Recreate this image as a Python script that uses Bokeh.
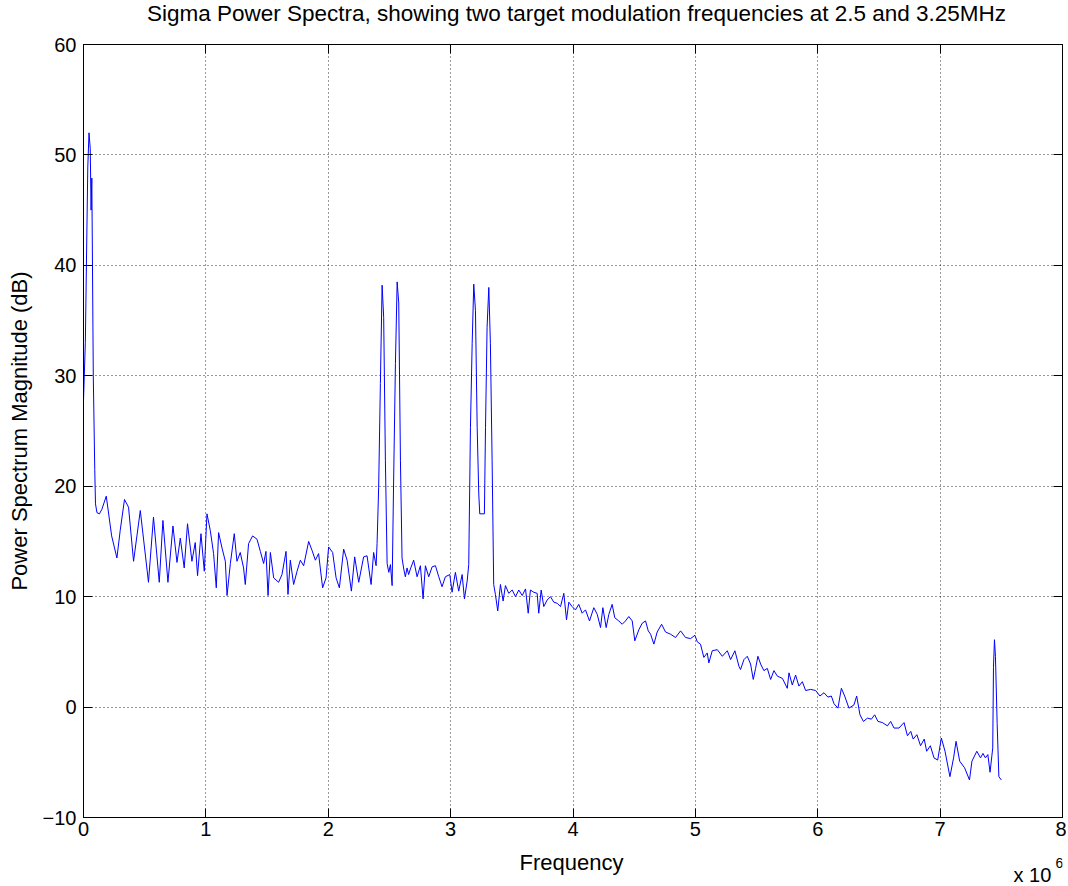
from bokeh.plotting import figure
from bokeh.models import Range1d, LinearAxis, Label, FixedTicker, ColumnDataSource
from bokeh.layouts import column
from bokeh.embed import file_html
from bokeh.resources import INLINE

# ---- data (frequency in MHz, magnitude in dB) ----
freq_low = [0.000, 0.015, 0.035, 0.045, 0.055, 0.062, 0.068, 0.080, 0.092, 0.098, 0.110, 0.130, 0.150, 0.186,
            0.230, 0.273, 0.300, 0.335, 0.368, 0.409, 0.464, 0.531, 0.572, 0.619, 0.649, 0.690, 0.731, 0.764,
            0.791, 0.823, 0.850, 0.886, 0.913, 0.932, 0.960, 0.987]
db_low = [27.8, 33.0, 48.9, 52.0, 50.6, 45.0, 47.9, 30.0, 21.5, 18.4, 17.6, 17.5, 17.9, 19.1,
          15.5, 13.5, 16.0, 18.8, 18.1, 13.2, 17.8, 11.3, 17.2, 11.3, 16.9, 11.3, 16.4, 13.1,
          15.3, 12.6, 16.6, 13.2, 14.9, 11.9, 15.7, 12.3]

freq_band = [1.009, 1.036, 1.063, 1.085, 1.104, 1.132, 1.159, 1.173, 1.200, 1.232, 1.254, 1.281, 1.308, 1.322,
             1.349, 1.382, 1.418, 1.445, 1.472, 1.491, 1.508, 1.527, 1.554, 1.594, 1.622, 1.655, 1.671, 1.690,
             1.717, 1.745, 1.772, 1.799, 1.840, 1.867, 1.895, 1.921, 1.954, 1.982, 2.003, 2.036, 2.064, 2.091,
             2.126, 2.154, 2.189, 2.216, 2.249, 2.289, 2.317, 2.350, 2.371, 2.391]
db_band = [17.5, 16.0, 13.9, 10.8, 15.8, 14.4, 13.2, 10.1, 13.0, 15.7, 13.2, 14.0, 12.6, 11.1,
           14.8, 15.5, 15.2, 14.1, 13.0, 14.1, 10.1, 14.0, 11.7, 11.3, 12.0, 14.1, 10.2, 13.3,
           11.1, 12.3, 13.3, 12.8, 15.0, 14.2, 13.3, 13.9, 10.8, 11.7, 14.5, 14.0, 11.7, 10.8,
           14.3, 13.3, 10.5, 13.6, 11.3, 13.6, 13.7, 11.1, 14.0, 12.8]

freq_pair1 = [2.399, 2.412, 2.426, 2.440, 2.453, 2.467, 2.481, 2.495, 2.508, 2.522, 2.535, 2.549, 2.563,
              2.576, 2.590, 2.603]
db_pair1 = [14.8, 19.9, 29.3, 38.2, 35.3, 22.3, 13.0, 12.2, 12.9, 11.0, 21.1, 31.1, 38.5,
            36.6, 22.3, 13.5]

freq_mid = [2.617, 2.630, 2.644, 2.657, 2.671, 2.698, 2.726, 2.753, 2.775, 2.794, 2.821, 2.849, 2.876,
            2.903, 2.930, 2.957, 2.993, 3.012, 3.039, 3.066, 3.094, 3.113, 3.135, 3.148]
db_mid = [12.5, 11.8, 12.6, 12.0, 12.5, 13.3, 11.8, 12.8, 9.8, 12.8, 11.8, 12.7, 12.8,
          11.8, 10.9, 11.8, 12.0, 10.4, 12.2, 10.5, 12.0, 9.8, 11.4, 12.9]

freq_pair2 = [3.162, 3.176, 3.189, 3.203, 3.217, 3.230, 3.238, 3.276, 3.285, 3.298, 3.312, 3.325, 3.339,
              3.352, 3.366, 3.385]
db_pair2 = [25.3, 32.9, 38.3, 35.9, 25.3, 19.3, 17.5, 17.5, 25.3, 34.4, 38.0, 32.9, 22.3,
            11.1, 10.2, 8.7]

freq_high = [3.407, 3.429, 3.448, 3.475, 3.503, 3.530, 3.557, 3.585, 3.612, 3.634, 3.652, 3.679, 3.707,
             3.720, 3.740, 3.761, 3.789, 3.816, 3.843, 3.871, 3.898, 3.925, 3.947, 3.966, 3.993, 4.020,
             4.047, 4.075, 4.102, 4.135, 4.170, 4.198, 4.225, 4.244, 4.271, 4.293, 4.320, 4.341, 4.374,
             4.402, 4.429, 4.456, 4.484, 4.505, 4.538, 4.566, 4.593, 4.615, 4.634, 4.661, 4.688, 4.724,
             4.756, 4.797, 4.838, 4.879, 4.920, 4.961, 4.996, 5.016, 5.042, 5.069, 5.097, 5.110, 5.138,
             5.179, 5.220, 5.261, 5.288, 5.323, 5.356]
db_high = [11.1, 9.6, 11.0, 10.3, 10.6, 10.0, 10.6, 10.1, 10.7, 8.5, 10.6, 10.4, 10.3,
           8.5, 10.6, 9.1, 9.7, 10.0, 9.5, 9.4, 9.1, 10.3, 7.9, 9.5, 9.1, 8.8,
           9.3, 8.5, 8.8, 7.8, 9.0, 8.4, 7.2, 9.0, 7.2, 8.4, 9.3, 8.1, 7.8,
           7.5, 7.8, 8.2, 7.8, 6.0, 7.0, 7.6, 7.8, 6.9, 6.6, 5.7, 6.8, 7.5,
           6.8, 6.6, 6.3, 6.9, 6.3, 6.2, 6.5, 5.9, 5.7, 4.5, 4.9, 4.0, 5.1,
           5.2, 4.6, 5.1, 4.3, 5.1, 3.7]

freq_slope = [5.369, 5.397, 5.424, 5.451, 5.473, 5.492, 5.511, 5.533, 5.560, 5.588, 5.615, 5.642, 5.670,
              5.711, 5.751, 5.765, 5.792, 5.819, 5.846, 5.874, 5.901, 5.942, 5.983, 6.018, 6.051, 6.083,
              6.111, 6.133, 6.165, 6.193, 6.220, 6.255, 6.296, 6.318, 6.345, 6.373, 6.406, 6.438, 6.465,
              6.492, 6.528, 6.569, 6.596, 6.623, 6.664, 6.705]
db_slope = [3.4, 4.3, 4.6, 3.9, 2.5, 3.5, 4.6, 3.9, 3.3, 3.5, 2.5, 3.3, 2.8,
            2.6, 1.7, 3.1, 2.0, 2.9, 1.9, 2.3, 1.5, 1.6, 1.5, 1.0, 1.3, 0.9,
            1.0, 0.3, -0.1, 1.7, 1.0, -0.1, 0.2, 1.0, -0.7, -1.3, -1.0, -1.1, -0.7,
            -1.3, -1.4, -1.7, -1.3, -1.9, -1.9, -1.4]

freq_tail = [6.733, 6.760, 6.780, 6.810, 6.840, 6.870, 6.890, 6.920, 6.950, 6.980, 7.010, 7.040, 7.080,
             7.110, 7.130, 7.160, 7.200, 7.240, 7.260, 7.300, 7.330, 7.350, 7.370, 7.390, 7.408, 7.430,
             7.436, 7.444, 7.452, 7.466, 7.480, 7.500]
db_tail = [-2.6, -2.2, -2.9, -2.5, -3.5, -2.9, -4.0, -3.5, -4.6, -4.8, -2.8, -4.0, -6.3,
           -4.6, -3.1, -4.9, -5.5, -6.6, -4.9, -4.0, -4.6, -4.2, -4.6, -4.3, -5.9, -3.7,
           3.6, 6.1, 4.6, -1.5, -6.3, -6.6]

x_ticks = [0, 1, 2, 3, 4, 5, 6, 7, 8]
y_ticks = [-10, 0, 10, 20, 30, 40, 50, 60]

title_text = "Sigma Power Spectra, showing two target modulation frequencies at 2.5 and 3.25MHz"
x_label = "Frequency"
y_label = "Power Spectrum Magnitude (dB)"
scale_base = "x 10"
scale_exp = "6"

freq = freq_low + freq_band + freq_pair1 + freq_mid + freq_pair2 + freq_high + freq_slope + freq_tail
db = db_low + db_band + db_pair1 + db_mid + db_pair2 + db_high + db_slope + db_tail

FONT = "Liberation Sans"
W = 1066
H_TOP = 30
H_MAIN = 815
H_BOT = 39
LEFT = 83
RIGHT = 4


def text_strip(h):
    # a plain strip whose frame lines up with the main frame; its x units are page pixels
    f = figure(width=W, height=h, x_range=Range1d(LEFT, W - RIGHT), y_range=Range1d(0, h),
               output_backend="svg", toolbar_location=None,
               min_border_left=LEFT, min_border_right=RIGHT, min_border_top=0, min_border_bottom=0,
               x_axis_location=None, y_axis_location=None)
    f.outline_line_color = None
    f.background_fill_color = "white"
    f.border_fill_color = "white"
    for g in f.grid:
        g.visible = False
    return f


# title strip
p0 = text_strip(H_TOP)
p0.add_layout(Label(x=576, y=17, text=title_text, text_font=FONT, text_font_size="22.5px",
                    text_color="black", text_align="center", text_baseline="middle"))

# main plot
p = figure(width=W, height=H_MAIN, x_range=Range1d(0, 8), y_range=Range1d(-10, 60),
           output_backend="svg", toolbar_location=None,
           min_border_left=LEFT, min_border_right=RIGHT, min_border_top=14, min_border_bottom=28)
p.background_fill_color = "white"
p.border_fill_color = "white"
p.outline_line_color = "black"
p.outline_line_width = 1

src = ColumnDataSource(dict(freq=freq, db=db))
p.line("freq", "db", source=src, line_color="#0000ff", line_width=1)

for ax in p.xaxis:
    ax.ticker = FixedTicker(ticks=x_ticks)
for ax in p.yaxis:
    ax.ticker = FixedTicker(ticks=y_ticks)

for ax in list(p.xaxis) + list(p.yaxis):
    ax.axis_line_color = "black"
    ax.major_tick_line_color = "black"
    ax.major_tick_in = 9
    ax.major_tick_out = 0
    ax.minor_tick_line_color = None
    ax.major_label_text_font = FONT
    ax.major_label_text_font_size = "20px"
    ax.major_label_text_color = "black"
    ax.axis_label_text_font = FONT
    ax.axis_label_text_font_size = "22px"
    ax.axis_label_text_font_style = "normal"
    ax.axis_label_text_color = "black"

p.yaxis.axis_label = y_label
p.xaxis.major_label_standoff = 4
p.yaxis.major_label_standoff = 7
p.yaxis.axis_label_standoff = 8

top_ax = LinearAxis(ticker=FixedTicker(ticks=x_ticks), major_tick_in=9, major_tick_out=0,
                    major_label_text_font_size="1px", major_label_text_color=None,
                    minor_tick_line_color=None, axis_line_color="black", major_label_standoff=0)
right_ax = LinearAxis(ticker=FixedTicker(ticks=y_ticks), major_tick_in=9, major_tick_out=0,
                      major_label_text_font_size="1px", major_label_text_color=None,
                      minor_tick_line_color=None, axis_line_color="black", major_label_standoff=0)
p.add_layout(top_ax, "above")
p.add_layout(right_ax, "right")

p.grid.grid_line_color = "black"
p.grid.grid_line_dash = "1 3"
p.grid.grid_line_width = 1
p.grid.grid_line_alpha = 0.8

# bottom strip: x-axis title and the "x 10^6" scale note
p2 = text_strip(H_BOT)
p2.add_layout(Label(x=571, y=22, text=x_label, text_font=FONT, text_font_size="22px",
                    text_color="black", text_align="center", text_baseline="middle"))
p2.add_layout(Label(x=1013, y=10, text=scale_base, text_font=FONT, text_font_size="20px",
                    text_color="black", text_align="left", text_baseline="middle"))
p2.add_layout(Label(x=1055, y=22, text=scale_exp, text_font=FONT, text_font_size="14px",
                    text_color="black", text_align="left", text_baseline="middle"))

layout = column(p0, p, p2, spacing=0)
open("out.html", "w").write(file_html(layout, INLINE))
